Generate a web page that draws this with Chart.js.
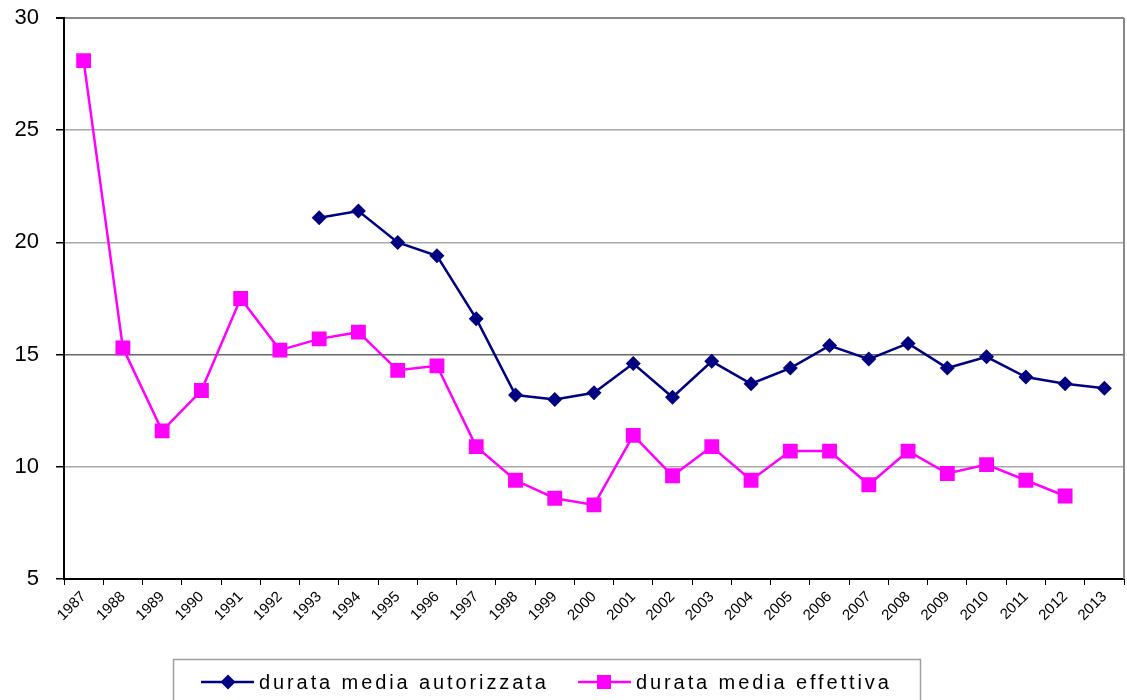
<!DOCTYPE html>
<html>
<head>
<meta charset="utf-8">
<script src="https://cdn.jsdelivr.net/npm/chart.js@4.4.1/dist/chart.umd.min.js"></script>
<style>
  body { margin: 0; background: #fff; }
  canvas { display: block; }
</style>
</head>
<body>
<canvas id="lineChart" width="1127" height="700"></canvas>
<script>
var anni = ["1987", "1988", "1989", "1990", "1991", "1992", "1993", "1994", "1995", "1996",
    "1997", "1998", "1999", "2000", "2001", "2002", "2003", "2004", "2005", "2006",
    "2007", "2008", "2009", "2010", "2011", "2012", "2013"];

var durataAutorizzata = [null, null, null, null, null, null, 21.1, 21.4, 20.0, 19.4,
    16.6, 13.2, 13.0, 13.3, 14.6, 13.1, 14.7, 13.7, 14.4, 15.4,
    14.8, 15.5, 14.4, 14.9, 14.0, 13.7, 13.5];

var durataEffettiva = [28.1, 15.3, 11.6, 13.4, 17.5, 15.2, 15.7, 16.0, 14.3, 14.5,
    10.9, 9.4, 8.6, 8.3, 11.4, 9.6, 10.9, 9.4, 10.7, 10.7,
    9.2, 10.7, 9.7, 10.1, 9.4, 8.7, null];

var yTicks = [5, 10, 15, 20, 25, 30];

var FONT = "'Liberation Sans', Arial, sans-serif";

// bordo destro grigio + legenda stile Excel (linea con marcatore)
var excelFrame = {
    id: "excelFrame",
    afterDraw: function (chart) {
        var ctx = chart.ctx;
        var area = chart.chartArea;

        ctx.save();
        ctx.strokeStyle = "#888";
        ctx.lineWidth = 2;
        ctx.beginPath();
        ctx.moveTo(area.right, area.top);
        ctx.lineTo(area.right, area.bottom);
        ctx.stroke();

        // riquadro legenda
        ctx.strokeStyle = "#a0a0a0";
        ctx.lineWidth = 1.5;
        ctx.strokeRect(173.5, 659.5, 747, 60);

        var x = 201, y = 682;
        ctx.font = "20px " + FONT;
        ctx.letterSpacing = "2.9px";
        ctx.textBaseline = "middle";
        chart.data.datasets.forEach(function (ds) {
            ctx.strokeStyle = ds.borderColor;
            ctx.lineWidth = 2.5;
            ctx.beginPath();
            ctx.moveTo(x, y);
            ctx.lineTo(x + 53, y);
            ctx.stroke();
            ctx.fillStyle = ds.pointBackgroundColor;
            ctx.beginPath();
            if (ds.pointStyle === "rectRot") {
                ctx.moveTo(x + 27, y - 7.5);
                ctx.lineTo(x + 34.5, y);
                ctx.lineTo(x + 27, y + 7.5);
                ctx.lineTo(x + 19.5, y);
                ctx.closePath();
            } else {
                ctx.rect(x + 19, y - 7, 14, 14);
            }
            ctx.fill();
            ctx.fillStyle = "#000";
            ctx.fillText(ds.label, x + 58, y + 1);
            x = 578;
        });
        ctx.restore();
    }
};

var ctx = document.getElementById("lineChart").getContext("2d");
var myChart = new Chart(ctx, {
    type: "line",
    data: {
        labels: anni,
        datasets: [
            {
                label: "durata media autorizzata",
                data: durataAutorizzata,
                borderColor: "#000080",
                backgroundColor: "#000080",
                pointBackgroundColor: "#000080",
                pointBorderColor: "#000080",
                borderWidth: 2.5,
                pointStyle: "rectRot",
                pointRadius: 7.5,
                pointBorderWidth: 0,
                tension: 0
            },
            {
                label: "durata media effettiva",
                data: durataEffettiva,
                borderColor: "#ff00ff",
                backgroundColor: "#ff00ff",
                pointBackgroundColor: "#ff00ff",
                pointBorderColor: "#ff00ff",
                borderWidth: 2.5,
                pointStyle: "rect",
                pointRadius: 10.5,
                pointBorderWidth: 0,
                tension: 0
            }
        ]
    },
    options: {
        responsive: false,
        animation: false,
        layout: { autoPadding: false, padding: { top: 18, right: 3, left: 0, bottom: 0 } },
        plugins: {
            legend: { display: false },
            tooltip: { enabled: false }
        },
        scales: {
            x: {
                offset: true,
                grid: {
                    offset: true,
                    drawOnChartArea: false,
                    color: "#000",
                    tickLength: 6
                },
                border: { color: "#000", width: 2 },
                ticks: {
                    color: "#000",
                    font: { family: FONT, size: 15 },
                    maxRotation: 45,
                    minRotation: 45,
                    autoSkip: false,
                    padding: 3
                },
                afterFit: function (scale) {
                    scale.height = 121;
                    scale.paddingLeft = 0;
                    scale.paddingRight = 0;
                }
            },
            y: {
                min: yTicks[0],
                max: yTicks[yTicks.length - 1],
                afterBuildTicks: function (scale) {
                    scale.ticks = yTicks.map(function (v) { return { value: v }; });
                },
                grid: {
                    color: function (c) {
                        if (c.tick && c.tick.value === 15) return "#666";
                        if (c.tick && c.tick.value === 30) return "#888";
                        return "#a8a8a8";
                    },
                    lineWidth: function (c) {
                        return (c.tick && c.tick.value === 30) ? 2 : 1.5;
                    },
                    tickColor: "#000",
                    tickLength: 8
                },
                border: { color: "#000", width: 2 },
                ticks: {
                    color: "#000",
                    font: { family: FONT, size: 22 },
                    padding: 17
                },
                afterFit: function (scale) {
                    scale.width = 64;
                    scale.paddingTop = 0;
                    scale.paddingBottom = 0;
                }
            }
        }
    },
    plugins: [excelFrame]
});
</script>
</body>
</html>
